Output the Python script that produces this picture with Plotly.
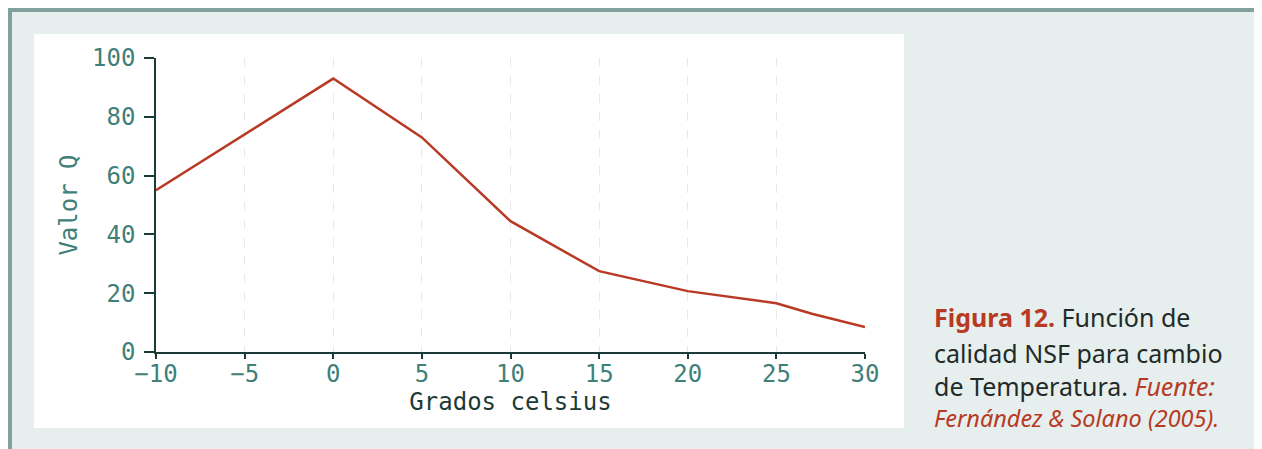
import plotly.graph_objects as go

# Datos: función de calidad NSF para cambio de temperatura
grados = [-10, -5, 0, 5, 10, 15, 20, 25, 27, 30]
valor_q = [55, 74, 93, 73, 44.5, 27.5, 20.7, 16.6, 13, 8.5]
x_ticks = [-10, -5, 0, 5, 10, 15, 20, 25, 30]
y_ticks = [0, 20, 40, 60, 80, 100]

# the page body adds an 8px offset, so everything is placed 8px up/left
OFF = 8
W, H = 1262, 449
L, R, T, B = 156 - OFF, 865 - OFF, 58 - OFF, 352 - OFF  # plot area in pixels


def px(x):
    return (x - OFF - L) / (R - L)


def py(y):
    return (B - (y - OFF)) / (B - T)


mono = "DejaVu Sans Mono"
teal = "#3f8079"
dark = "#1d3b36"
red = "#b83a24"

fig = go.Figure()
fig.add_trace(go.Scatter(
    x=grados, y=valor_q, mode="lines",
    line=dict(color=red, width=2.5),
    hoverinfo="x+y",
))

# frame + white panel behind the chart
fig.add_shape(type="rect", xref="paper", yref="paper", layer="below",
              x0=px(9.5), x1=px(1257.5), y0=py(480), y1=py(9.5),
              fillcolor="#e6efed", line=dict(color="#82a19c", width=5))
fig.add_shape(type="rect", xref="paper", yref="paper", layer="below",
              x0=px(34), x1=px(904), y0=py(428), y1=py(34),
              fillcolor="white", line=dict(width=0))

# caption, one annotation per line
caption = [
    ("<b><span style='color:%s'>Figura 12.</span></b> Función de" % red, 317, 25),
    ("calidad NSF para cambio", 353, 25),
    ("de Temperatura. <i><span style='color:%s'>Fuente:</span></i>" % red, 386, 25),
    ("<i>Fernández &amp; Solano (2005).</i>", 418, 23.5),
]
for i, (txt, yy, sz) in enumerate(caption):
    fig.add_annotation(
        text=txt, xref="paper", yref="paper", x=px(932), y=py(yy),
        xanchor="left", yanchor="middle", showarrow=False, align="left",
        font=dict(family="Noto Sans", size=sz, color=red if i == 3 else "#222a28"),
    )

fig.update_xaxes(
    range=[-10, 30], tickvals=x_ticks, ticktext=[str(t).replace("-", "\u2212") for t in x_ticks],
    showgrid=True, gridcolor="#e8e8e8", griddash="dash", gridwidth=1,
    showline=True, linecolor=dark, linewidth=1.5, zeroline=False,
    ticks="outside", ticklen=5, tickcolor=dark, tickwidth=1.5,
    ticklabelstandoff=-6,
    tickfont=dict(family=mono, size=24, color=teal),
    title=dict(text="Grados celsius", font=dict(family=mono, size=24, color=dark), standoff=5),
)
fig.update_yaxes(
    range=[0, 100], tickvals=y_ticks,
    showgrid=False, zeroline=False,
    showline=True, linecolor=dark, linewidth=1.5,
    ticks="outside", ticklen=10, tickcolor=dark, tickwidth=1.5,
    ticklabelstandoff=4,
    tickfont=dict(family=mono, size=24, color=teal),
    title=dict(text="Valor Q", font=dict(family=mono, size=24, color=teal), standoff=8),
)
fig.update_layout(
    width=W, height=H,
    margin=dict(l=L, r=W - R, t=T, b=H - B),
    paper_bgcolor="white", plot_bgcolor="rgba(0,0,0,0)",
    showlegend=False,
)

fig.write_html("out.html", config=dict(displaylogo=False))
